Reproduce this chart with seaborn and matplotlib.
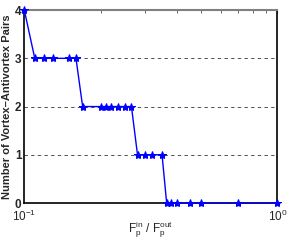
import pandas as pd
import matplotlib
matplotlib.use('Agg')
import matplotlib.pyplot as plt
import matplotlib.ticker as mticker
import seaborn as sns

sns.set_style('white')
plt.rcParams['font.family'] = ['Liberation Sans', 'DejaVu Sans']
plt.rcParams['mathtext.fontset'] = 'custom'
plt.rcParams['mathtext.rm'] = 'Liberation Sans:bold'
plt.rcParams['mathtext.it'] = 'Liberation Sans:bold'
plt.rcParams['mathtext.bf'] = 'Liberation Sans:bold'

# 钉扎力比值与涡旋-反涡旋对数
ratio = [0.10, 0.11, 0.12, 0.13, 0.15, 0.16,
         0.17, 0.20, 0.21, 0.22, 0.235, 0.25, 0.265,
         0.28, 0.30, 0.32, 0.35,
         0.365, 0.38, 0.40, 0.45, 0.50, 0.70, 1.00]
pairs = [4, 3, 3, 3, 3, 3,
         2, 2, 2, 2, 2, 2, 2,
         1, 1, 1, 1,
         0, 0, 0, 0, 0, 0, 0]
yticks = [0, 1, 2, 3, 4]

df = pd.DataFrame({'ratio': ratio, 'pairs': pairs})

fig = plt.figure(figsize=(2.91, 2.40), dpi=100)
ax = fig.add_axes([0.0835, 0.154, 0.870, 0.804])

# 虚线网格
for y in yticks[1:-1]:
    ax.axhline(y, color='k', lw=0.6, ls=(0, (4, 4)), alpha=0.8, zorder=1)

sns.lineplot(data=df, x='ratio', y='pairs', sort=False, estimator=None,
             color='#0000ff', lw=1.0, marker='*', markersize=6,
             markeredgecolor='#0000ff', ax=ax, zorder=3, clip_on=False)

ax.set_xscale('log')
ax.set_xlim(0.1, 1.0)
ax.set_ylim(0, 4)
ax.set_yticks(yticks)
ax.set_xticks([0.1, 1.0])
ax.set_xticklabels([r'$\mathregular{10^{-1}}$', r'$\mathregular{10^{0}}$'])
ax.xaxis.set_minor_formatter(mticker.NullFormatter())
ax.tick_params(axis='both', which='both', direction='in', labelsize=8.5,
               length=2, width=0.5, pad=2)
ax.tick_params(axis='x', which='both', top=True, pad=4.5)
for lab in ax.get_yticklabels():
    lab.set_fontweight('bold')

for s in ['left', 'bottom', 'right']:
    ax.spines[s].set_color('k')
    ax.spines[s].set_linewidth(1.2)
ax.spines['top'].set_color('#808080')
ax.spines['top'].set_linewidth(1.5)

ax.set_xlabel(r'$\mathregular{F_p^{in}\ /\ F_p^{out}}$', fontsize=8.5)
ax.xaxis.set_label_coords(0.5, -0.085)
ax.set_ylabel('Number of Vortex\u2013Antivortex Pairs', fontsize=8,
              fontweight='bold', labelpad=2)

fig.savefig('out.png', dpi=100)
